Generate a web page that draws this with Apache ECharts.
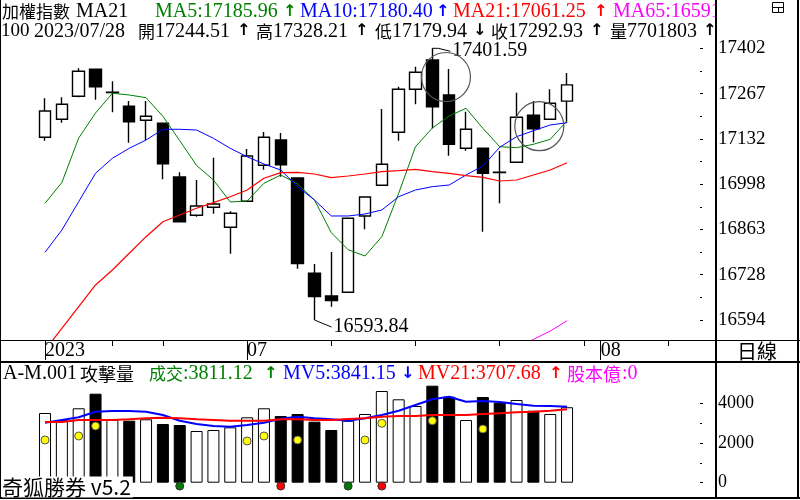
<!DOCTYPE html>
<html>
<head>
<meta charset="utf-8">
<script src="https://cdn.jsdelivr.net/npm/echarts/dist/echarts.min.js"></script>
<style>
html, body { margin: 0; padding: 0; background: #fff; }
#main { width: 800px; height: 500px; }
</style>
</head>
<body>
<div id="main"></div>
<script>
// 交易日 (右側為未來空白日)
var dates = ['2023/06/13', '2023/06/14', '2023/06/15', '2023/06/16', '2023/06/19', '2023/06/20', '2023/06/21',
  '2023/06/26', '2023/06/27', '2023/06/28', '2023/06/29', '2023/06/30',
  '2023/07/03', '2023/07/04', '2023/07/05', '2023/07/06', '2023/07/07',
  '2023/07/10', '2023/07/11', '2023/07/12', '2023/07/13', '2023/07/14',
  '2023/07/17', '2023/07/18', '2023/07/19', '2023/07/20', '2023/07/21',
  '2023/07/24', '2023/07/25', '2023/07/26', '2023/07/27', '2023/07/28',
  '2023/07/31', '2023/08/01', '2023/08/02', '2023/08/03', '2023/08/04',
  '2023/08/07', '2023/08/08', '2023/08/09']

// K線
var opens = [17137.0, 17190.5, 17258.9, 17339.2, 17270.0, 17229.2, 17187.6, 17178.6, 17019.0, 16905.1, 16928.9,
  16869.5, 16946.8, 17053.8, 17129.0, 17016.0, 16732.7, 16665.2, 16676.2, 16903.1, 16994.3, 17151.9, 17279.7,
  17366.8, 17262.8, 17104.3, 17104.3, 17033.5, 17062.7, 17202.4, 17190.5, 17244.51]
var closes = [17215.2, 17235.1, 17333.2, 17287.4, 17271.0, 17183.4, 17199.4, 17058.5, 16886.1, 16932.8, 16938.7,
  16911.1, 17081.4, 17137.0, 17055.6, 16761.3, 16663.2, 16651.3, 16896.2, 16959.5, 17056.8, 17279.7, 17330.3,
  17228.0, 17116.2, 17160.8, 17030.0, 17032.5, 17196.5, 17162.6, 17238.1, 17292.93]
var lows = [17126.9, 17180.4, 17256.0, 17248.8, 17211.3, 17121.0, 17129.0, 17012.2, 16886.1, 16901.0, 16909.9,
  16791.0, 16946.8, 17040.7, 17019.9, 16746.4, 16593.84, 16633.4, 16676.2, 16863.5, 16994.3, 17126.9, 17235.1,
  17163.8, 17082.3, 17097.2, 16856.4, 16940.8, 17062.7, 17122.2, 17190.5, 17179.94]
var highs = [17253.0, 17255.9, 17342.1, 17341.0, 17303.5, 17244.9, 17244.9, 17180.0, 17033.0, 17010.1, 17076.4,
  16917.0, 17102.2, 17152.8, 17149.8, 17016.0, 16760.4, 16796.0, 16896.2, 16959.5, 17221.1, 17287.4, 17346.9,
  17401.59, 17340.1, 17213.1, 17104.3, 17096.3, 17269.6, 17244.9, 17279.7, 17328.21]

// 均線
var ma5 = [16940.8, 17002.6, 17134.9, 17209.3, 17267.8, 17262.8, 17254.8, 17199.4, 17126.9, 17053.2, 17010.1,
  16944.7, 16947.6, 17000.3, 17024.9, 16998.2, 16950.6, 16853.4, 16802.9, 16784.1, 16841.5, 16970.5, 17109.1,
  17164.6, 17200.3, 17223.2, 17163.8, 17109.1, 17106.1, 17116.2, 17131.1, 17185.96]
var ma10 = [16795.1, 16861.4, 16945.6, 17030.0, 17074.6, 17104.3, 17129.0, 17160.8, 17160.8, 17158.7, 17134.0,
  17104.3, 17079.3, 17057.6, 17039.8, 16990.2, 16950.6, 16903.1, 16903.1, 16909.0, 16920.9, 16960.4, 16980.4,
  16990.2, 16995.2, 17024.9, 17051.7, 17107.3, 17138.8, 17156.6, 17173.6, 17180.40]
var ma21 = [16504.7, 16568.6, 16633.4, 16698.0, 16742.6, 16792.2, 16841.5, 16886.1, 16906.0, 16926.0, 16942.6,
  16960.4, 16980.4, 17015.1, 17031.8, 17033.0, 17027.9, 17016.9, 17022.0, 17027.9, 17034.8, 17037.7, 17041.9,
  17034.8, 17030.0, 17022.9, 17018.1, 17007.1, 17010.1, 17024.9, 17039.9, 17061.25]
var ma65 = [null, null, null, null, null, null, null, null, null, null, null, null, null, null, null, null,
  null, null, null, null, null, null, null, null, null, null, null, null, 16512.0, 16536.0, 16561.0, 16591.5]

// 成交量
var volumes = [3520, 3167, 3758, 4495, 3167, 3131, 3202, 2965, 2914, 2611, 2662, 2798, 3303, 3758, 3369, 3470,
  3081, 2662, 3131, 3470, 4631, 4212, 3874, 4899, 4343, 3167, 4328, 4040, 4177, 3636, 3470, 3811.12]
var mv5 = [3030, 3167, 3303, 3586, 3621, 3621, 3586, 3419, 3131, 2965, 2864, 2828, 2914, 3030, 3232, 3333,
  3253, 3202, 3131, 3253, 3419, 3636, 3924, 4212, 4343, 4091, 4126, 4076, 3975, 3889, 3874, 3841.15]
var mv21 = [3066, 3066, 3167, 3167, 3167, 3202, 3253, 3283, 3253, 3202, 3167, 3131, 3131, 3131, 3202, 3202,
  3167, 3167, 3217, 3253, 3333, 3369, 3369, 3419, 3419, 3419, 3470, 3505, 3556, 3586, 3636, 3707.68]
var yellowDots = [2157, null, 2359, 2864, null, null, null, null, null, null, null, null, 2106, 2359, null, 2157,
  null, null, null, 2157, 3000, null, null, 3131, null, null, 2712, null, null, null, null, null]
var buySignals = [8, 18]
var sellSignals = [14, 20]

// 刻度
var priceTicks = ['16594', '16728', '16863', '16998', '17132', '17267', '17402']
var volTicks = [0, 2000, 4000]

// 標註
var extremeMarks = [[23, 17401.59, 1], [16, 16593.84, 0]]
var circleMarks = [[23.81, 17316.3], [29.35, 17170.0]]

var LAT = '"Liberation Serif", serif'
var CJK = '"Noto Sans CJK TC", sans-serif'
var ARW = '"DejaVu Sans", sans-serif'
var last = closes.length - 1

// 版面
var PLOT_L = 36.6
var BAND = 16.84
var PLOT_W = BAND * dates.length
var P_TOP = 20
var P_BOT = 340
var PX_PER_PT = 271.7 / (17401.59 - 16593.84)
var Y_MIN = 16593.84 - (P_BOT - 320) / PX_PER_PT
var Y_MAX = 17401.59 + (48.3 - P_TOP) / PX_PER_PT
var V_TOP = 362
var V_BOT = 498
var V_ZERO = 482.7
var V_PX = 0.0198
var V_MIN = -(V_BOT - V_ZERO) / V_PX
var V_MAX = (V_ZERO - V_TOP) / V_PX

function isMonthStart (i) {
  return i === 0 || dates[i].slice(5, 7) !== dates[i - 1].slice(5, 7)
}
function isWeekStart (i) {
  return new Date(dates[i].replace(/\//g, '-') + 'T00:00:00').getDay() === 1
}

var candleData = opens.map(function (o, i) {
  return [o, closes[i], lows[i], highs[i]]
})
var volData = volumes.map(function (v, i) {
  var down = closes[i] < opens[i]
  return { value: v, itemStyle: { color: down ? '#000' : '#fff' } }
})
function signalData (list) {
  return list.map(function (i) { return [i, -170] })
}

function txt (x, y, s, color, size, fam, weight) {
  return {
    type: 'text', x: x, y: y, z: 100,
    style: {
      text: s, fill: color, font: (weight || '') + ' ' + size + 'px ' + fam,
      verticalAlign: 'middle', align: 'left'
    }
  }
}
function arw (x, y, a, b, color) {
  return txt(x - 2, y, b >= a ? '↑' : '↓', color, 16, ARW, 'bold')
}

var G = '#008000', B = '#0000ff', R = '#ff0000', M = '#ff00ff'
var header = [
  txt(2, 11.7, '加權指數', '#000', 17, CJK),
  txt(76, 11.7, 'MA21', '#000', 20, LAT),
  txt(155, 11.7, 'MA5:' + ma5[last].toFixed(2), G, 20, LAT),
  arw(285, 11.7, ma5[last - 1], ma5[last], G),
  txt(300, 11.7, 'MA10:' + ma10[last].toFixed(2), B, 20, LAT),
  arw(438, 11.7, ma10[last - 1], ma10[last], B),
  txt(453, 11.7, 'MA21:' + ma21[last].toFixed(2), R, 20, LAT),
  arw(596, 11.7, ma21[last - 1], ma21[last], R),
  txt(613, 11.7, 'MA65:' + ma65[last].toFixed(2), M, 20, LAT),
  txt(1, 31.3, '100', '#000', 19, LAT),
  txt(34, 31.3, dates[last], '#000', 20, LAT),
  txt(138, 31.3, '開', '#000', 17, CJK),
  txt(155, 31.3, opens[last].toFixed(2), '#000', 20, LAT),
  arw(239, 31.3, 0, 1, '#000'),
  txt(256, 31.3, '高', '#000', 17, CJK),
  txt(273, 31.3, highs[last].toFixed(2), '#000', 20, LAT),
  arw(357, 31.3, 0, 1, '#000'),
  txt(375, 31.3, '低', '#000', 17, CJK),
  txt(392, 31.3, lows[last].toFixed(2), '#000', 20, LAT),
  arw(475, 31.3, 1, 0, '#000'),
  txt(491, 31.3, '收', '#000', 17, CJK),
  txt(508, 31.3, closes[last].toFixed(2), '#000', 20, LAT),
  arw(592, 31.3, 0, 1, '#000'),
  txt(610, 31.3, '量', '#000', 17, CJK),
  txt(627, 31.3, '7701803', '#000', 20, LAT),
  arw(705, 31.3, 0, 1, '#000'),
  // 量能副圖標題
  txt(3, 374, 'A-M.001', '#000', 20, LAT),
  txt(80, 374, '攻擊量', '#000', 18, CJK),
  txt(149, 374, '成交', G, 17, CJK),
  txt(183, 374, ':' + volumes[last].toFixed(2), G, 20, LAT),
  arw(266, 374, volumes[last - 1], volumes[last], G),
  txt(283, 374, 'MV5:' + mv5[last].toFixed(2), B, 20, LAT),
  arw(403, 374, mv5[last - 1], mv5[last], B),
  txt(418, 374, 'MV21:' + mv21[last].toFixed(2), R, 20, LAT),
  arw(551, 374, mv21[last - 1], mv21[last], R),
  txt(567, 374, '股本億', M, 18, CJK),
  txt(622, 374, ':0', M, 20, LAT)
]

var frame = [
  { type: 'rect', z: 101, shape: { x: 717, y: 0, width: 83, height: 40 }, style: { fill: '#fff' } },
  { type: 'rect', z: 102, shape: { x: 772.5, y: 2.5, width: 11, height: 10 }, style: { fill: 'none', stroke: '#000', lineWidth: 1 } },
  { type: 'line', z: 102, shape: { x1: 772, y1: 7.5, x2: 784, y2: 7.5 }, style: { stroke: '#000', lineWidth: 1 } },
  { type: 'line', z: 102, shape: { x1: 778.5, y1: 7, x2: 778.5, y2: 13 }, style: { stroke: '#000', lineWidth: 1 } },
  { type: 'line', z: 102, shape: { x1: 0, y1: 340.5, x2: 800, y2: 340.5 }, style: { stroke: '#000', lineWidth: 1 } },
  { type: 'line', z: 102, shape: { x1: 0, y1: 362, x2: 800, y2: 362 }, style: { stroke: '#000', lineWidth: 2 } },
  { type: 'line', z: 102, shape: { x1: 716, y1: 0, x2: 716, y2: 498 }, style: { stroke: '#000', lineWidth: 2 } },
  { type: 'line', z: 102, shape: { x1: 0.5, y1: 0, x2: 0.5, y2: 498 }, style: { stroke: '#000', lineWidth: 1 } },
  { type: 'line', z: 102, shape: { x1: 798, y1: 0, x2: 798, y2: 498 }, style: { stroke: '#000', lineWidth: 2 } },
  { type: 'line', z: 102, shape: { x1: 0, y1: 498, x2: 800, y2: 498 }, style: { stroke: '#000', lineWidth: 2 } },
  txt(737, 351, '日線', '#000', 20, CJK),
  {
    type: 'text', x: 2, y: 487, z: 103,
    style: {
      text: '奇狐勝券 v5.2', fill: '#000', font: '21px ' + CJK, verticalAlign: 'middle',
      backgroundColor: '#fff', padding: [0, 2, 0, 0]
    }
  }
]

var categoryAxis = {
  type: 'category', data: dates, boundaryGap: true,
  axisLine: { show: false }, splitLine: { show: false }
}

var chart = echarts.init(document.getElementById('main'))
var option = {
  animation: false,
  backgroundColor: '#fff',
  grid: [
    { left: PLOT_L, width: PLOT_W, top: P_TOP, height: P_BOT - P_TOP, outerBoundsMode: 'none' },
    { left: PLOT_L, width: PLOT_W, top: V_TOP, height: V_BOT - V_TOP, outerBoundsMode: 'none' },
    { left: 700, width: 16, top: 48.3, height: 271.7, outerBoundsMode: 'none' },
    { left: 700, width: 16, top: V_ZERO - volTicks[2] * V_PX, height: volTicks[2] * V_PX, outerBoundsMode: 'none' }
  ],
  xAxis: [
    Object.assign({}, categoryAxis, {
      gridIndex: 0, position: 'bottom',
      axisTick: {
        show: true, alignWithLabel: true, length: 6, inside: false,
        interval: function (i) { return isWeekStart(i) && !isMonthStart(i) },
        lineStyle: { color: '#000', width: 1 }
      },
      axisLabel: { show: false }
    }),
    Object.assign({}, categoryAxis, {
      gridIndex: 0, position: 'bottom',
      axisTick: {
        show: true, alignWithLabel: true, length: 20, inside: false,
        interval: function (i) { return isMonthStart(i) },
        lineStyle: { color: '#000', width: 1 }
      },
      axisLabel: {
        show: true, interval: function (i) { return isMonthStart(i) },
        formatter: function (v, i) { return i === 0 ? v.slice(0, 4) : v.slice(5, 7) },
        align: 'left', margin: 1, color: '#000', fontFamily: LAT, fontSize: 20,
        verticalAlign: 'top', hideOverlap: false
      }
    }),
    Object.assign({}, categoryAxis, { gridIndex: 1, show: false }),
    { type: 'value', gridIndex: 2, show: false },
    { type: 'value', gridIndex: 3, show: false }
  ],
  yAxis: [
    { type: 'value', gridIndex: 0, min: Y_MIN, max: Y_MAX, show: false, splitLine: { show: false } },
    { type: 'value', gridIndex: 1, min: V_MIN, max: V_MAX, show: false, splitLine: { show: false } },
    {
      type: 'value', gridIndex: 2, position: 'right', min: 0, max: priceTicks.length - 1, interval: 1,
      axisLine: { show: false }, splitLine: { show: false },
      axisTick: { show: true, length: 3, lineStyle: { color: '#000' } },
      minorTick: { show: true, splitNumber: 2, length: 2, lineStyle: { color: '#000' } },
      axisLabel: {
        margin: 2, color: '#000', fontFamily: LAT, fontSize: 19,
        formatter: function (v) { return priceTicks[Math.round(v)] }
      }
    },
    {
      type: 'value', gridIndex: 3, position: 'right', min: volTicks[0], max: volTicks[2],
      interval: volTicks[1] - volTicks[0],
      axisLine: { show: false }, splitLine: { show: false },
      axisTick: { show: true, length: 3, lineStyle: { color: '#000' } },
      minorTick: { show: true, splitNumber: 2, length: 2, lineStyle: { color: '#000' } },
      axisLabel: {
        margin: 2, color: '#000', fontFamily: LAT, fontSize: 18,
        formatter: function (v) { return String(v) }
      }
    }
  ],
  series: [
    {
      type: 'candlestick', xAxisIndex: 0, yAxisIndex: 0, data: candleData, barWidth: 12,
      itemStyle: { color: '#fff', color0: '#000', borderColor: '#000', borderColor0: '#000', borderWidth: 1.4 }
    },
    { type: 'line', data: ma5, symbol: 'none', lineStyle: { color: G, width: 1 }, z: 3 },
    { type: 'line', data: ma10, symbol: 'none', lineStyle: { color: B, width: 1 }, z: 3 },
    { type: 'line', data: ma21, symbol: 'none', lineStyle: { color: R, width: 1.2 }, z: 3 },
    { type: 'line', data: ma65, symbol: 'none', lineStyle: { color: M, width: 1 }, z: 3 },
    {
      type: 'custom', xAxisIndex: 0, yAxisIndex: 0, data: extremeMarks, clip: false, z: 5,
      renderItem: function (params, api) {
        var p = api.coord([api.value(0), api.value(1)])
        var high = api.value(2) === 1
        var pts = high
          ? [[p[0], p[1]], [p[0] + 6, p[1]], [p[0] + 18, p[1] + 3]]
          : [[p[0], p[1]], [p[0] + 17, p[1] + 7]]
        var end = pts[pts.length - 1]
        return {
          type: 'group',
          children: [
            { type: 'polyline', shape: { points: pts }, style: { stroke: '#000', fill: null, lineWidth: 1 } },
            {
              type: 'text',
              style: {
                text: api.value(1).toFixed(2), x: end[0] + 2, y: end[1] + (high ? -1 : 0),
                fill: '#000', font: '20px ' + LAT, verticalAlign: 'middle', align: 'left'
              }
            }
          ]
        }
      }
    },
    {
      type: 'custom', xAxisIndex: 0, yAxisIndex: 0, data: circleMarks, clip: false, z: 6,
      renderItem: function (params, api) {
        var v = api.value(0)
        var i = Math.floor(v)
        var p = api.coord([i, api.value(1)])
        var bw = api.size([1, 0])[0]
        return {
          type: 'circle',
          shape: { cx: p[0] + (v - i) * bw, cy: p[1], r: 24.5 },
          style: { fill: null, stroke: '#555', lineWidth: 1.2 }
        }
      }
    },
    {
      type: 'bar', xAxisIndex: 2, yAxisIndex: 1, data: volData, barWidth: 12,
      itemStyle: { borderColor: '#000', borderWidth: 1 }
    },
    {
      type: 'line', xAxisIndex: 2, yAxisIndex: 1, data: mv5, symbol: 'none', z: 4,
      lineStyle: { color: B, width: 2 }
    },
    {
      type: 'line', xAxisIndex: 2, yAxisIndex: 1, data: mv21, symbol: 'none', z: 4,
      lineStyle: { color: R, width: 2 }
    },
    {
      type: 'scatter', xAxisIndex: 2, yAxisIndex: 1, data: yellowDots, symbolSize: 8, z: 5,
      itemStyle: { color: '#ffff00', borderColor: '#555', borderWidth: 1, opacity: 1 }
    },
    {
      type: 'scatter', xAxisIndex: 2, yAxisIndex: 1, data: signalData(buySignals), symbolSize: 8, z: 5, clip: false,
      itemStyle: { color: '#007a00', borderColor: '#333', borderWidth: 1, opacity: 1 }
    },
    {
      type: 'scatter', xAxisIndex: 2, yAxisIndex: 1, data: signalData(sellSignals), symbolSize: 8, z: 5, clip: false,
      itemStyle: { color: '#ff0000', borderColor: '#333', borderWidth: 1, opacity: 1 }
    }
  ],
  graphic: header.concat(frame)
}
chart.setOption(option)
window.addEventListener('resize', function () {
  chart.resize()
})
</script>
</body>
</html>
